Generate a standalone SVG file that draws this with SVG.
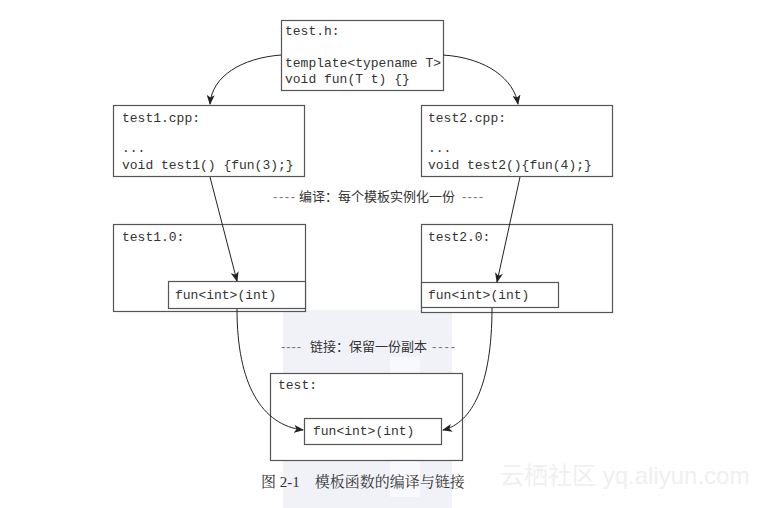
<svg xmlns="http://www.w3.org/2000/svg" width="769" height="508" viewBox="0 0 769 508">
<defs>
<marker id="arr" markerWidth="10" markerHeight="8" refX="9" refY="4" orient="auto" markerUnits="userSpaceOnUse">
<path d="M0,0 L10,4 L0,8 L2.5,4 Z" fill="#222"/>
</marker>
<style>
.box{fill:#fff;stroke:#555;stroke-width:1.2}
.code{font-family:"Liberation Mono","DejaVu Sans Mono",monospace;font-size:13px;fill:#333}
.lbl{font-family:"Noto Sans CJK SC","Liberation Sans",sans-serif;font-size:13px;fill:#333}
.dash{font-family:"Liberation Sans",sans-serif;font-size:13px;fill:#777}
.cap{font-family:"Liberation Serif","Noto Serif CJK SC","Noto Sans CJK SC",serif;font-size:15px;fill:#333}
.wm{font-family:"Liberation Sans","Noto Sans CJK SC",sans-serif;font-size:24px;fill:#f0f0f0}
.conn{fill:none;stroke:#222;stroke-width:1}
</style>
</defs>
<rect width="769" height="508" fill="#fff"/>
<g id="background">
<rect x="283" y="310" width="169" height="198" fill="#f1f2f8"/>
<rect x="390" y="357" width="30" height="140" fill="#f8f9fc"/>
</g>
<g id="test_h">
<rect class="box" x="281.5" y="20.5" width="162" height="70"/>
<text class="code" x="285" y="35">test.h:</text>
<text class="code" x="285" y="67">template&lt;typename T&gt;</text>
<text class="code" x="285" y="83">void fun(T t) {}</text>
</g>
<g id="test1_cpp">
<rect class="box" x="113.5" y="105.5" width="191" height="71"/>
<text class="code" x="122" y="122">test1.cpp:</text>
<text class="code" x="122" y="152">...</text>
<text class="code" x="122" y="169">void test1() {fun(3);}</text>
</g>
<g id="test2_cpp">
<rect class="box" x="421.5" y="105.5" width="191" height="71"/>
<text class="code" x="428" y="122">test2.cpp:</text>
<text class="code" x="428" y="152">...</text>
<text class="code" x="428" y="169">void test2(){fun(4);}</text>
</g>
<g id="compile_label">
<text class="dash" x="273" y="201" textLength="22" lengthAdjust="spacing">----</text>
<text class="lbl" x="299" y="201">编译：每个模板实例化一份</text>
<text class="dash" x="462" y="201" textLength="21" lengthAdjust="spacing">----</text>
</g>
<g id="test1_o">
<rect class="box" x="113.5" y="224.5" width="192" height="87"/>
<text class="code" x="122" y="241">test1.0:</text>
<rect class="box" x="168.5" y="281.5" width="137" height="27"/>
<text class="code" x="175" y="299">fun&lt;int&gt;(int)</text>
</g>
<g id="test2_o">
<rect class="box" x="421.5" y="224.5" width="191" height="88"/>
<text class="code" x="428" y="241">test2.0:</text>
<rect class="box" x="421.5" y="282.5" width="137" height="25"/>
<text class="code" x="428" y="299">fun&lt;int&gt;(int)</text>
</g>
<g id="link_label">
<text class="dash" x="281" y="351" textLength="20" lengthAdjust="spacing">----</text>
<text class="lbl" x="310" y="351">链接：保留一份副本</text>
<text class="dash" x="432" y="351" textLength="23" lengthAdjust="spacing">----</text>
</g>
<g id="test">
<rect class="box" x="270.5" y="373.5" width="192" height="87"/>
<text class="code" x="278" y="389">test:</text>
<rect class="box" x="304.5" y="418.5" width="137" height="26"/>
<text class="code" x="313" y="435">fun&lt;int&gt;(int)</text>
</g>
<g id="connectors">
<path class="conn" d="M281,55 C242,58 212,76 210,104" marker-end="url(#arr)"/>
<path class="conn" d="M443,55 C488,58 514,80 518,104" marker-end="url(#arr)"/>
<path class="conn" d="M210,177 L237,281" marker-end="url(#arr)"/>
<path class="conn" d="M520,177 L497,282" marker-end="url(#arr)"/>
<path class="conn" d="M237,309 C237,385 262,425 303,430" marker-end="url(#arr)"/>
<path class="conn" d="M492,308 C492,385 472,423 443,430" marker-end="url(#arr)"/>
</g>
<g id="caption">
<text class="cap" x="261" y="487">图 2-1　模板函数的编译与链接</text>
</g>
<g id="watermark">
<text class="wm" x="500" y="484">云栖社区 yq.aliyun.com</text>
</g>
</svg>
